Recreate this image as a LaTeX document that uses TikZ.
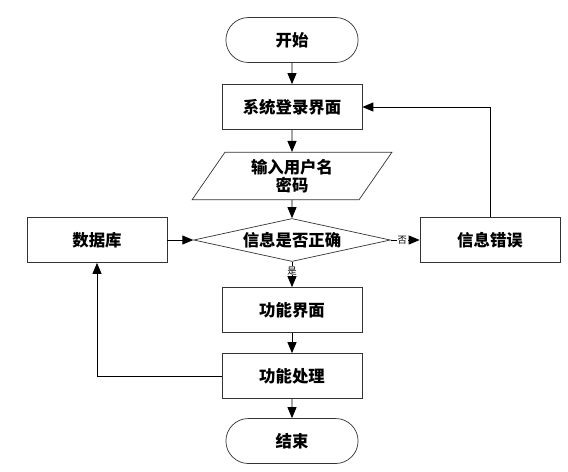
\documentclass[tikz,border=0pt]{standalone}
\usepackage{fontspec}
\newfontfamily\cjk{Noto Sans CJK SC}
\usepackage{tikz}
\usetikzlibrary{arrows.meta,positioning,shapes.geometric,shapes.misc}

\begin{document}
\begin{tikzpicture}[
    every node/.style={font=\cjk\bfseries\fontsize{14}{18}\selectfont},
    box/.style={draw=black!80, line width=0.6pt, minimum width=4.2cm, minimum height=1.35cm},
    term/.style={draw=black!80, line width=0.6pt, rounded rectangle, minimum width=4.2cm, minimum height=1.35cm},
    io/.style={draw=black!80, line width=0.6pt, trapezium, trapezium left angle=60, trapezium right angle=120,
      trapezium stretches=true, minimum width=6.0cm, minimum height=1.42cm, align=center, inner sep=1pt},
    check/.style={draw=black!80, line width=0.6pt, diamond, aspect=4.6, inner sep=0pt,
      minimum width=5.9cm, minimum height=1.29cm},
    flow/.style={line width=0.8pt, -{Triangle[length=0.33cm, width=0.27cm]}},
    tag/.style={font=\cjk\fontsize{8}{9}\selectfont, fill=white, inner sep=0.5pt}
  ]
      \useasboundingbox (0, 0) rectangle (17.04, -14.13);

      % main column
      \node[term] (start) at (8.76, -1.2) {开始};
      \node[box] (login) at (8.76, -3.21) {系统登录界面};
      \node[io] (input) at (8.76, -5.28) {输入用户名\\[-3pt]密码};
      \node[check] (verify) at (8.76, -7.2) {信息是否正确};
      \node[box] (func) at (8.76, -9.3) {功能界面};
      \node[box] (proc) at (8.76, -11.28) {功能处理};
      \node[term] (stop) at (8.76, -13.23) {结束};

      % side boxes
      \node[box] (db) at (2.91, -7.2) {数据库};
      \node[box] (err) at (14.7, -7.2) {信息错误};

      \draw[flow] (start) -- (login);
      \draw[flow] (login) -- (input);
      \draw[flow] (input) -- (verify);
      \draw[flow] (db) -- (verify);
      \draw[flow] (verify) -- node[tag, pos=0.4] {否} (err);
      \draw[flow] (verify) -- node[tag, pos=0.35] {是} (func);
      \draw[flow] (func) -- (proc);
      \draw[flow] (proc) -- (stop);

      % loops back
      \draw[flow] (proc.west) -| (db.south);
      \draw[flow] (err.north) |- (login.east);
\end{tikzpicture}
\end{document}
